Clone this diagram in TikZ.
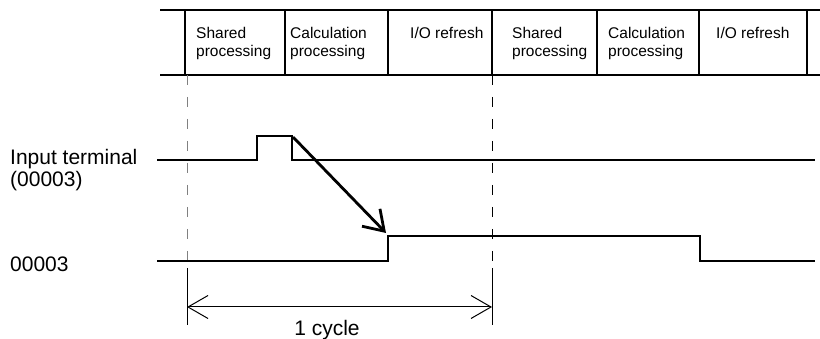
\documentclass[tikz,border=0pt]{standalone}
\usepackage{fontspec}
\setmainfont{Liberation Sans}
\usetikzlibrary{arrows.meta}

\begin{document}
\begin{tikzpicture}[x=1pt,y=-1pt,
    band/.style={line width=1.3pt},
    signal/.style={line width=1.4pt},
    guide/.style={line width=0.9pt, dash pattern=on 10pt off 12pt},
    cell/.style={anchor=base west, align=left, inner sep=0pt,
      font=\fontsize{15.5}{18.5}\selectfont},
    sigtext/.style={anchor=base west, align=left, inner sep=0pt,
      font=\fontsize{21}{22}\selectfont}]
    \useasboundingbox (0,0) rectangle (820,339);

    % scan band
    \draw[band] (160,10) -- (820,10);
    \draw[band] (160,75) -- (820,75);
    \foreach \x in {185,285,388,492,597,699,807}
      \draw[band] (\x,10) -- (\x,75);

    % (base of a two-line cell is its second line)
    \node[cell] (sp1) at (196,57) {Shared\\processing};
    \node[cell] (cp1) at (290,57) {Calculation\\processing};
    \node[cell] (io1) at (410,39) {I/O refresh};
    \node[cell] (sp2) at (512,57) {Shared\\processing};
    \node[cell] (cp2) at (608,57) {Calculation\\processing};
    \node[cell] (io2) at (716,39) {I/O refresh};

    % cycle boundaries
    \coordinate (c0top) at (187,75);
    \coordinate (c0bot) at (187,263);
    \coordinate (c1top) at (492,75);
    \coordinate (c1bot) at (492,265);
    \draw[guide, gray] (c0top) -- (c0bot);
    \draw[guide] (c1top) -- (c1bot);

    % input terminal
    \node[sigtext] (inlab) at (10,187) {Input terminal\\(00003)};
    \coordinate (in0) at (157,160);
    \coordinate (up) at (257,136);
    \coordinate (fall) at (292,136);
    \coordinate (in1) at (815,160);
    \draw[signal] (in0) -- (up |- in0) -- (up) -- (fall) -- (fall |- in0) -- (in1);

    % output bit
    \node[sigtext] (outlab) at (10,272) {00003};
    \coordinate (out0) at (157,261);
    \coordinate (rise) at (388,236);
    \coordinate (drop) at (700,236);
    \coordinate (out1) at (815,261);
    \draw[signal] (out0) -- (rise |- out0) -- (rise) -- (drop) -- (drop |- out0) -- (out1);

    \draw[line width=2.8pt, -{Straight Barb[length=19pt,width=25pt,line width=2.8pt]}]
      ([shift={(1,1)}]fall) -- ([shift={(-2,-3)}]rise);

    % one cycle
    \coordinate (d0) at (187,268);
    \coordinate (d1) at (492,268);
    \draw[line width=1pt] (d0) -- +(0,57);
    \draw[line width=1pt] (d1) -- +(0,57);
    \draw[line width=1pt, {Straight Barb[length=20pt,width=23pt]}-{Straight Barb[length=20pt,width=23pt]}]
      ([shift={(0,39)}]d0) -- ([shift={(0,39)}]d1);
    \node[sigtext, anchor=base] (cyc) at (327,335) {1 cycle};
  \end{tikzpicture}
\end{document}
